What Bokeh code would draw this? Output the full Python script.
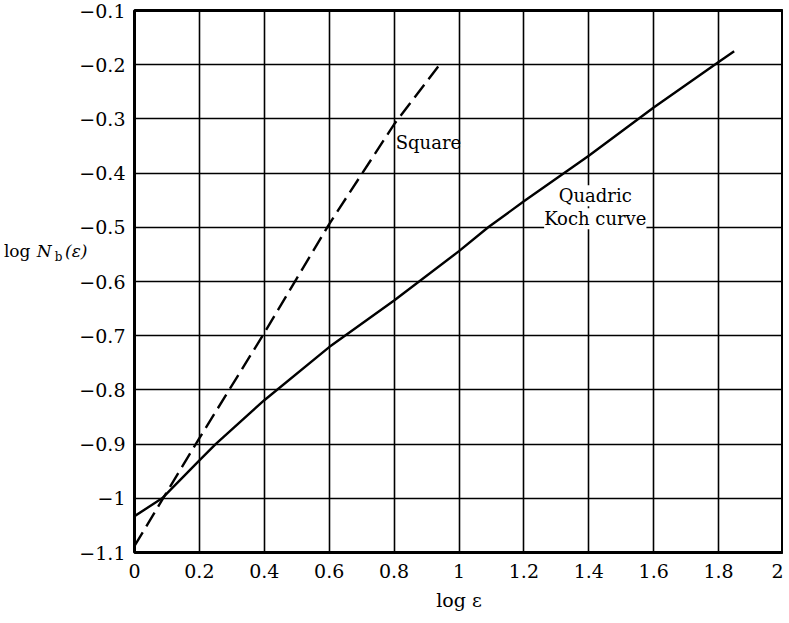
from bokeh.plotting import figure
from bokeh.models import FixedTicker, CustomJSTickFormatter, Label, Range1d, LinearAxis
from bokeh.embed import file_html
from bokeh.resources import INLINE

# ---- data ----
koch_x = [0.0, 0.085, 0.2, 0.25, 0.4, 0.6, 0.8, 1.0, 1.09, 1.2, 1.4, 1.6, 1.8, 1.848]
koch_y = [-1.033, -1.0, -0.93, -0.9, -0.819, -0.721, -0.635, -0.544, -0.5, -0.452, -0.368, -0.279, -0.195, -0.175]

square_x = [0.0, 0.088, 0.2, 0.4, 0.6, 0.8, 0.94]
square_y = [-1.088, -1.0, -0.889, -0.695, -0.494, -0.31, -0.2]

x_ticks = [0, 0.2, 0.4, 0.6, 0.8, 1.0, 1.2, 1.4, 1.6, 1.8, 2.0]
y_ticks = [-1.1, -1.0, -0.9, -0.8, -0.7, -0.6, -0.5, -0.4, -0.3, -0.2, -0.1]

# y-axis label "log N_b(ε)" pieces, from the frame outwards:
# (text, font style, font size px, standoff, line height factor)
ylabel_parts = [("(\u03b5)", "italic", 17, -11, 3.06),
                ("b", "normal", 12, 0, 3.55),
                ("N", "italic", 17, 0, 3.06),
                ("log", "normal", 17, 3, 3.06)]

FONT = "DejaVu Serif"

p = figure(frame_width=649, frame_height=542,
           min_border_left=134, min_border_right=0, min_border_top=10, min_border_bottom=71,
           x_range=Range1d(0, 2), y_range=Range1d(-1.1, -0.1),
           output_backend="svg", toolbar_location=None)
p.styles = {"position": "absolute", "left": "0px", "top": "0px"}

p.background_fill_color = "white"
p.border_fill_color = "white"
p.outline_line_color = "black"
p.outline_line_width = 3

fmt_code = "var v = Math.round(tick*10)/10; return v.toString().replace('-', '\u2212');"
for ax, ticks in ((p.xaxis[0], x_ticks), (p.yaxis[0], y_ticks)):
    ax.ticker = FixedTicker(ticks=ticks)
    ax.formatter = CustomJSTickFormatter(code=fmt_code)
    ax.major_tick_in = 0
    ax.major_tick_out = 0
    ax.minor_tick_in = 0
    ax.minor_tick_out = 0
    ax.axis_line_color = None
    ax.major_label_text_font = FONT
    ax.major_label_text_font_size = "19px"
    ax.major_label_text_color = "black"
p.yaxis[0].major_label_standoff = 9
p.xaxis[0].major_label_standoff = 11

xa = p.xaxis[0]
xa.axis_label = "log \u03b5"
xa.axis_label_text_font = FONT
xa.axis_label_text_font_size = "19px"
xa.axis_label_text_font_style = "normal"
xa.axis_label_text_color = "black"
xa.axis_label_standoff = 8

# y label: label-only axes stacked to the left of the tick labels;
# a trailing empty line lifts each piece above the frame's mid-height
for text, style, size, standoff, lh in ylabel_parts:
    a = LinearAxis(ticker=FixedTicker(ticks=[]),
                   axis_label=text + "\n", axis_label_orientation="horizontal",
                   axis_label_standoff=standoff,
                   axis_label_text_font=FONT, axis_label_text_font_size=f"{size}px",
                   axis_label_text_font_style=style, axis_label_text_color="black",
                   axis_label_text_line_height=lh,
                   axis_line_color=None, major_tick_out=0, major_tick_in=0,
                   minor_tick_out=0, minor_tick_in=0, major_label_standoff=0,
                   major_label_text_font_size="0px")
    p.add_layout(a, "left")

p.xgrid.ticker = FixedTicker(ticks=x_ticks)
p.ygrid.ticker = FixedTicker(ticks=y_ticks)
for g in (p.xgrid[0], p.ygrid[0]):
    g.grid_line_color = "black"
    g.grid_line_width = 1.6
    g.grid_line_alpha = 1.0

def lab(x, y, text, align="left", bg=None, level="annotation"):
    kw = {}
    if bg:
        kw = dict(background_fill_color=bg, background_fill_alpha=1.0, padding=0)
    l = Label(x=x, y=y, text=text, text_font=FONT, text_font_size="18px",
              text_align=align, text_baseline="alphabetic",
              text_color="black", level=level, **kw)
    p.add_layout(l)

lab(1.42, -0.4416, "Quadric", align="center", bg="white", level="underlay")
lab(1.42, -0.484, "Koch curve", align="center", bg="white", level="underlay")

p.line(koch_x, koch_y, line_color="black", line_width=2.4)
p.line(square_x, square_y, line_color="black", line_width=2.4, line_dash="16 7")

lab(0.805, -0.3435, "Square")

open("out.html", "w").write(file_html(p, INLINE))
